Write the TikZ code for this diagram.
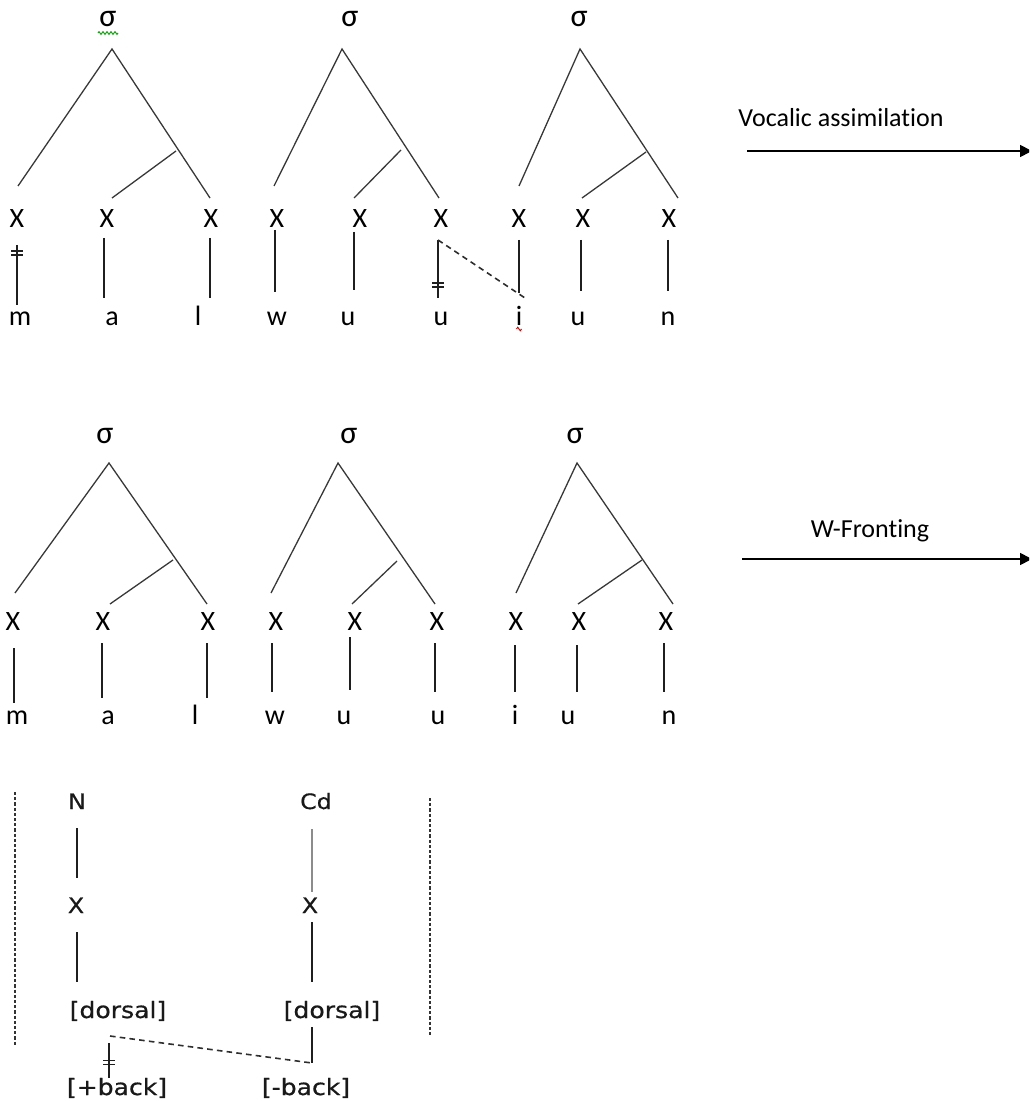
\documentclass[tikz,border=0pt]{standalone}
\usepackage{fontspec}
\setmainfont{Carlito}[Ligatures=NoCommon]
\newfontfamily\dfont[FakeStretch=1.12,FakeBold=0.6]{DejaVu Sans}
\usetikzlibrary{arrows.meta,calc,decorations.pathmorphing}

% association line between two named points
\newcommand\assoc[5][br]{%
  \coordinate (#4) at (#2); \coordinate (#5) at (#3);
  \draw[#1] (#4) -- (#5);}
% delinking mark (two short bars) across a vertical line
\newcommand\delink[1]{%
  \draw[br] ($(#1)+(-6,-2)$) -- ($(#1)+(6,-2)$);
  \draw[br] ($(#1)+(-6,2)$) -- ($(#1)+(6,2)$);}
% syllable tree: name, apex, left end, right end, inner start, inner end
\newcommand\syl[6]{%
  \coordinate (#1a) at (#2); \coordinate (#1l) at (#3);
  \coordinate (#1r) at (#4); \coordinate (#1p) at (#5);
  \coordinate (#1q) at (#6);
  \draw[tr] (#1l) -- (#1a) -- (#1r);
  \draw[tr] (#1p) -- (#1q);}

\tikzset{
  tr/.style={line width=0.65pt, draw=black!78},
  br/.style={line width=0.75pt, draw=black!88},
  pale/.style={line width=0.75pt, draw=black!45},
  spread/.style={line width=0.8pt, draw=black!82, dash pattern=on 2.8pt off 2.1pt},
  sep/.style={line width=1.3pt, draw=black!80, dash pattern=on 1.6pt off 1pt},
  sig/.style={font=\fontsize{16}{18}\selectfont, anchor=base, inner sep=0pt},
  xs/.style={font=\fontsize{14}{16}\selectfont, anchor=base, inner sep=0pt},
  seg/.style={font=\fontsize{14}{16}\selectfont, anchor=base, inner sep=0pt},
  lab/.style={font=\fontsize{13}{15}\selectfont, anchor=base, inner sep=0pt},
  ft/.style={font=\dfont\fontsize{11.2}{13}\selectfont, anchor=base, inner sep=0pt, text=black!90},
  fn/.style={font=\dfont\fontsize{10.6}{12}\selectfont, anchor=base, inner sep=0pt, text=black!90},
  rule/.style={line width=0.85pt, -{Triangle[length=6pt,width=6pt]}},
  spell/.style={line width=0.45pt, decorate, decoration={zigzag, segment length=2pt, amplitude=0.7pt}},
}

\begin{document}
\begin{tikzpicture}[x=0.5pt,y=-0.5pt]
\useasboundingbox (0,0) rectangle (1029,1101);
\clip (0,0) rectangle (1029,1101);

% ---------- first line: /mal wuu iun/ ----------
\node[sig] (s11) at (108,27) {σ};
\node[sig] (s12) at (350,27) {σ};
\node[sig] (s13) at (579,27) {σ};
\coordinate (w1) at (98,33); \coordinate (w2) at (118,33);
\draw[spell, draw=green!60!black] (w1) -- (w2);

\syl{ta}{112,49}{18,186}{210,198}{176,151}{112,198}
\syl{tb}{342,49}{274,186}{439,198}{401,150}{354,198}
\syl{tc}{580,49}{519,186}{678,198}{646,152}{582,198}

\foreach \n/\x/\t in {a1/17/X,a2/107/X,a3/211/X,b1/277/X,b2/360/X,b3/441/X,c1/519/X,c2/583/X,c3/669/X}
  \node[xs] (x\n) at (\x,228) {\t};

\node[seg] (m1) at (20,325) {m};
\node[seg] (a1) at (112,325) {a};
\node[seg] (l1) at (198,325) {l};
\node[seg] (w1s) at (277,325) {w};
\node[seg] (u11) at (348,325) {u};
\node[seg] (u12) at (441,325) {u};
\node[seg] (i1) at (519,325) {i};
\node[seg] (u13) at (578,325) {u};
\node[seg] (n1) at (668,325) {n};
\coordinate (r1) at (516.5,329); \coordinate (r2) at (521.5,329);
\draw[spell, draw=red!80!black, decoration={zigzag, segment length=2.5pt, amplitude=0.9pt}] (r1) -- (r2);

\assoc{17,245}{17,305}{pa1}{qa1}
\delink{17,253}
\assoc{104,238}{104,298}{pa2}{qa2}
\assoc{210,238}{210,298}{pa3}{qa3}
\assoc{275,230}{275,292}{pb1}{qb1}
\assoc{354,232}{354,290}{pb2}{qb2}
\assoc{438,240}{438,298}{pb3}{qb3}
\delink{438,285}
\assoc{519,240}{519,293}{pc1}{qc1}
\assoc{581,240}{581,291}{pc2}{qc2}
\assoc{668,240}{668,291}{pc3}{qc3}
\coordinate (sp) at (525,298);
\draw[spread] (pb3) -- (sp);

\node[lab] (va) at (841,127) {Vocalic assimilation};
\coordinate (va0) at (747,151); \coordinate (va1) at (1032,151);
\draw[rule] (va0) -- (va1);

% ---------- second line ----------
\node[sig] (s21) at (105,443) {σ};
\node[sig] (s22) at (349,443) {σ};
\node[sig] (s23) at (575,443) {σ};

\syl{ua}{109,463}{15,593}{207,604}{173,560}{110,604}
\syl{ub}{338,463}{271,593}{435,604}{397,561}{352,604}
\syl{uc}{577,463}{516,593}{673,604}{642,560}{578,604}

\foreach \n/\x in {a1/13,a2/103,a3/208,b1/276,b2/355,b3/437,c1/516,c2/579,c3/666}
  \node[xs] (y\n) at (\x,630) {X};

\node[seg] (m2) at (17,724) {m};
\node[seg] (a2) at (108,724) {a};
\node[seg] (l2) at (195,724) {l};
\node[seg] (w2s) at (275,724) {w};
\node[seg] (u21) at (344,724) {u};
\node[seg] (u22) at (438,724) {u};
\node[seg] (i2) at (515,724) {i};
\node[seg] (u23) at (568,724) {u};
\node[seg] (n2) at (669,724) {n};

\assoc{14,648}{14,703}{ga1}{ha1}
\assoc{102,643}{102,698}{ga2}{ha2}
\assoc{207,643}{207,698}{ga3}{ha3}
\assoc{272,643}{272,692}{gb1}{hb1}
\assoc{350,637}{350,690}{gb2}{hb2}
\assoc{435,643}{435,692}{gb3}{hb3}
\assoc{515,645}{515,692}{gc1}{hc1}
\assoc{577,645}{577,692}{gc2}{hc2}
\assoc{664,643}{664,692}{gc3}{hc3}

\node[lab] (wf) at (870,537) {W-Fronting};
\coordinate (wf0) at (742,559); \coordinate (wf1) at (1032,559);
\draw[rule] (wf0) -- (wf1);

% ---------- feature geometry of the two dorsals ----------
\coordinate (d1) at (15,792); \coordinate (d2) at (15,1045);
\coordinate (d3) at (430,798); \coordinate (d4) at (430,1037);
\draw[sep] (d1) -- (d2);
\draw[sep] (d3) -- (d4);

\node[fn] (N) at (77,809) {N};
\node[fn] (Xn) at (76,913) {X};
\node[ft] (dn) at (118,1018) {[dorsal]};
\node[ft] (pb) at (117,1095) {[+back]};
\node[fn] (Cd) at (316,809) {Cd};
\node[fn] (Xc) at (310,913) {X};
\node[ft] (dc) at (332,1018) {[dorsal]};
\node[ft] (mb) at (306,1095) {[-back]};

\assoc{77,828}{77,878}{e1}{f1}
\assoc{77,932}{77,982}{e2}{f2}
\assoc[pale]{312,829}{312,892}{e3}{f3}
\assoc{312,922}{312,982}{e4}{f4}
\assoc{312,1027}{312,1063}{e5}{f5}
\assoc{109,1043}{109,1078}{e6}{f6}
\delink{109,1062.5}
\coordinate (e7) at (110,1036);
\draw[spread] (e7) -- (f5);
\end{tikzpicture}
\end{document}
